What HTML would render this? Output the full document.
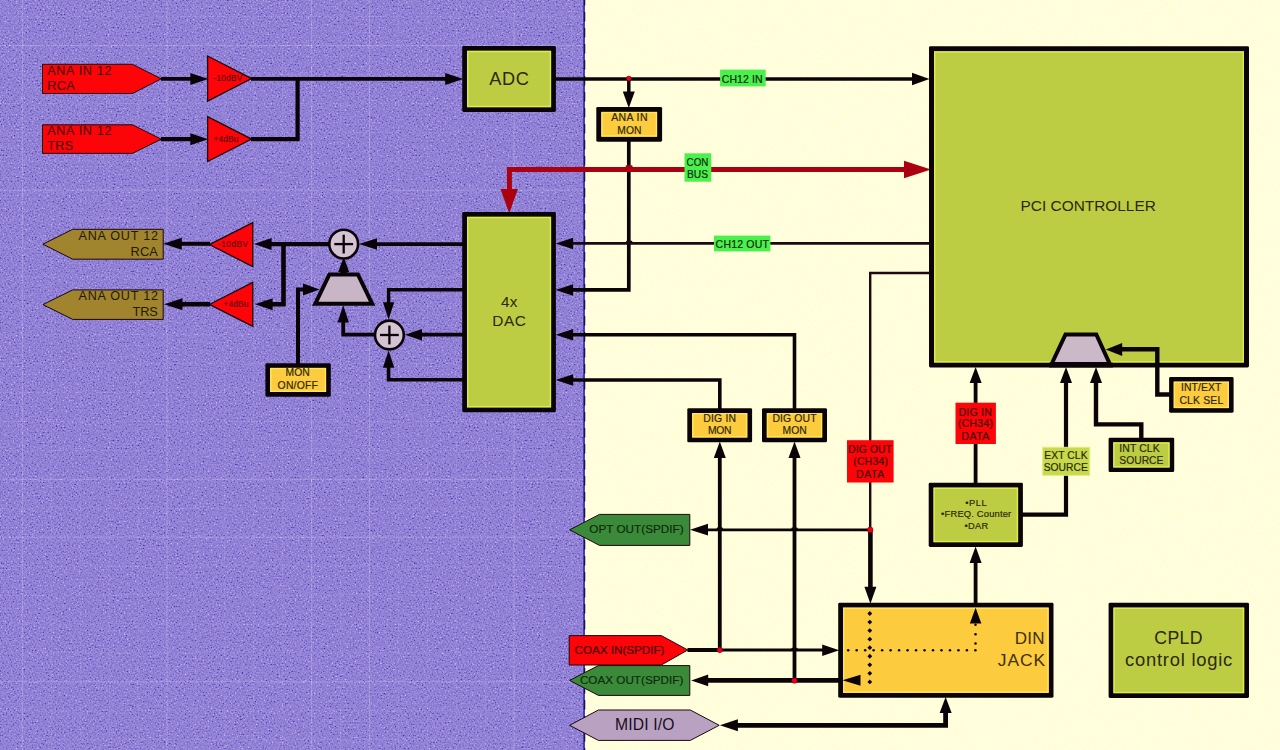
<!DOCTYPE html>
<html><head><meta charset="utf-8"><title>Block diagram</title>
<style>
html,body{margin:0;padding:0;background:#ffffd9;overflow:hidden}
svg{display:block}
text{font-family:"Liberation Sans",sans-serif}
</style></head><body>
<svg width="1280" height="750" viewBox="0 0 1280 750">
<defs><filter id="nz" x="0" y="0" width="100%" height="100%" color-interpolation-filters="sRGB"><feTurbulence type="fractalNoise" baseFrequency="0.62" numOctaves="2" seed="7" result="t"/><feColorMatrix in="t" type="matrix" values="1 0 0 0 0  1 0 0 0 0  1 0 0 0 0  0 0 0 0 1"/><feComponentTransfer result="g"><feFuncR type="table" tableValues="0.05 0.12 0.41 0.5 0.58 0.80 0.9"/><feFuncG type="table" tableValues="0.05 0.14 0.42 0.5 0.56 0.74 0.85"/><feFuncB type="table" tableValues="0.3 0.35 0.47 0.5 0.52 0.6 0.65"/></feComponentTransfer><feGaussianBlur in="g" stdDeviation="0.6" result="gb"/><feComposite in="SourceGraphic" in2="gb" operator="arithmetic" k1="0" k2="1" k3="0.78" k4="-0.39"/></filter><filter id="ny" x="0" y="0" width="100%" height="100%" color-interpolation-filters="sRGB"><feTurbulence type="fractalNoise" baseFrequency="0.7" numOctaves="2" seed="11" result="t"/><feColorMatrix in="t" type="matrix" values="0 0 0 0 0.5  0 0 0 0 0.5  0 0 1 0 0  0 0 0 0 1" result="g"/><feComposite in="SourceGraphic" in2="g" operator="arithmetic" k1="0" k2="1" k3="0.3" k4="-0.15"/></filter></defs>
<rect x="0" y="0" width="585" height="750" fill="#9182d6" filter="url(#nz)"/>
<rect x="584.6" y="0" width="696" height="750" fill="#fffedb" filter="url(#ny)"/>
<line x1="22.4" y1="0" x2="22.4" y2="750" stroke="#fff" stroke-opacity="0.2" stroke-width="1"/><line x1="51.32" y1="0" x2="51.32" y2="750" stroke="#fff" stroke-opacity="0.08" stroke-width="1"/><line x1="80.24" y1="0" x2="80.24" y2="750" stroke="#fff" stroke-opacity="0.08" stroke-width="1"/><line x1="109.16" y1="0" x2="109.16" y2="750" stroke="#fff" stroke-opacity="0.08" stroke-width="1"/><line x1="138.08" y1="0" x2="138.08" y2="750" stroke="#fff" stroke-opacity="0.08" stroke-width="1"/><line x1="167" y1="0" x2="167" y2="750" stroke="#fff" stroke-opacity="0.2" stroke-width="1"/><line x1="195.92" y1="0" x2="195.92" y2="750" stroke="#fff" stroke-opacity="0.08" stroke-width="1"/><line x1="224.84" y1="0" x2="224.84" y2="750" stroke="#fff" stroke-opacity="0.08" stroke-width="1"/><line x1="253.76" y1="0" x2="253.76" y2="750" stroke="#fff" stroke-opacity="0.08" stroke-width="1"/><line x1="282.68" y1="0" x2="282.68" y2="750" stroke="#fff" stroke-opacity="0.08" stroke-width="1"/><line x1="311.6" y1="0" x2="311.6" y2="750" stroke="#fff" stroke-opacity="0.2" stroke-width="1"/><line x1="340.52" y1="0" x2="340.52" y2="750" stroke="#fff" stroke-opacity="0.08" stroke-width="1"/><line x1="369.44" y1="0" x2="369.44" y2="750" stroke="#fff" stroke-opacity="0.2" stroke-width="1"/><line x1="398.36" y1="0" x2="398.36" y2="750" stroke="#fff" stroke-opacity="0.08" stroke-width="1"/><line x1="427.28" y1="0" x2="427.28" y2="750" stroke="#fff" stroke-opacity="0.08" stroke-width="1"/><line x1="456.2" y1="0" x2="456.2" y2="750" stroke="#fff" stroke-opacity="0.08" stroke-width="1"/><line x1="485.12" y1="0" x2="485.12" y2="750" stroke="#fff" stroke-opacity="0.08" stroke-width="1"/><line x1="514.04" y1="0" x2="514.04" y2="750" stroke="#fff" stroke-opacity="0.2" stroke-width="1"/><line x1="542.96" y1="0" x2="542.96" y2="750" stroke="#fff" stroke-opacity="0.08" stroke-width="1"/><line x1="571.88" y1="0" x2="571.88" y2="750" stroke="#fff" stroke-opacity="0.08" stroke-width="1"/><line x1="0" y1="16.6" x2="584" y2="16.6" stroke="#fff" stroke-opacity="0.08" stroke-width="1"/><line x1="0" y1="45.52" x2="584" y2="45.52" stroke="#fff" stroke-opacity="0.2" stroke-width="1"/><line x1="0" y1="74.44" x2="584" y2="74.44" stroke="#fff" stroke-opacity="0.08" stroke-width="1"/><line x1="0" y1="103.36" x2="584" y2="103.36" stroke="#fff" stroke-opacity="0.08" stroke-width="1"/><line x1="0" y1="132.28" x2="584" y2="132.28" stroke="#fff" stroke-opacity="0.08" stroke-width="1"/><line x1="0" y1="161.2" x2="584" y2="161.2" stroke="#fff" stroke-opacity="0.08" stroke-width="1"/><line x1="0" y1="190.12" x2="584" y2="190.12" stroke="#fff" stroke-opacity="0.2" stroke-width="1"/><line x1="0" y1="219.04" x2="584" y2="219.04" stroke="#fff" stroke-opacity="0.08" stroke-width="1"/><line x1="0" y1="247.96" x2="584" y2="247.96" stroke="#fff" stroke-opacity="0.08" stroke-width="1"/><line x1="0" y1="276.88" x2="584" y2="276.88" stroke="#fff" stroke-opacity="0.08" stroke-width="1"/><line x1="0" y1="305.8" x2="584" y2="305.8" stroke="#fff" stroke-opacity="0.08" stroke-width="1"/><line x1="0" y1="334.72" x2="584" y2="334.72" stroke="#fff" stroke-opacity="0.08" stroke-width="1"/><line x1="0" y1="363.64" x2="584" y2="363.64" stroke="#fff" stroke-opacity="0.08" stroke-width="1"/><line x1="0" y1="392.56" x2="584" y2="392.56" stroke="#fff" stroke-opacity="0.08" stroke-width="1"/><line x1="0" y1="421.48" x2="584" y2="421.48" stroke="#fff" stroke-opacity="0.08" stroke-width="1"/><line x1="0" y1="450.4" x2="584" y2="450.4" stroke="#fff" stroke-opacity="0.08" stroke-width="1"/><line x1="0" y1="479.32" x2="584" y2="479.32" stroke="#fff" stroke-opacity="0.2" stroke-width="1"/><line x1="0" y1="508.24" x2="584" y2="508.24" stroke="#fff" stroke-opacity="0.08" stroke-width="1"/><line x1="0" y1="537.16" x2="584" y2="537.16" stroke="#fff" stroke-opacity="0.2" stroke-width="1"/><line x1="0" y1="566.08" x2="584" y2="566.08" stroke="#fff" stroke-opacity="0.08" stroke-width="1"/><line x1="0" y1="595" x2="584" y2="595" stroke="#fff" stroke-opacity="0.08" stroke-width="1"/><line x1="0" y1="623.92" x2="584" y2="623.92" stroke="#fff" stroke-opacity="0.08" stroke-width="1"/><line x1="0" y1="652.84" x2="584" y2="652.84" stroke="#fff" stroke-opacity="0.08" stroke-width="1"/><line x1="0" y1="681.76" x2="584" y2="681.76" stroke="#fff" stroke-opacity="0.2" stroke-width="1"/><line x1="0" y1="710.68" x2="584" y2="710.68" stroke="#fff" stroke-opacity="0.08" stroke-width="1"/><line x1="0" y1="739.6" x2="584" y2="739.6" stroke="#fff" stroke-opacity="0.08" stroke-width="1"/>
<line x1="584" y1="0" x2="584" y2="750" stroke="#3c36b6" stroke-width="1.8"/>
<line x1="584.7" y1="0" x2="584.7" y2="750" stroke="#1a0a30" stroke-width="1.1" stroke-dasharray="9.5 6.5" stroke-dashoffset="4"/>
<polygon points="42.5,64.3 132.5,64.3 161.3,78.8 132.5,93.5 42.5,93.5" fill="#fc0408" stroke="#1c0610" stroke-width="1" stroke-linejoin="miter"/>
<polygon points="42.5,124.8 132.5,124.8 161.3,139.2 132.5,153.4 42.5,153.4" fill="#fc0408" stroke="#1c0610" stroke-width="1" stroke-linejoin="miter"/>
<text x="47.2" y="74.7" font-size="12.6" fill="#3c0004" textLength="64.3" lengthAdjust="spacing">ANA IN 12</text>
<text x="47.2" y="89.7" font-size="12.8" fill="#3c0004" textLength="27.7" lengthAdjust="spacing">RCA</text>
<text x="47.2" y="135.3" font-size="12.6" fill="#3c0004" textLength="64.3" lengthAdjust="spacing">ANA IN 12</text>
<text x="47.2" y="150.4" font-size="12.8" fill="#3c0004" textLength="26" lengthAdjust="spacing">TRS</text>
<polygon points="207.6,56 251.6,78.6 207.6,101.2" fill="#fc0408" stroke="#1c0610" stroke-width="1.3" stroke-linejoin="miter"/>
<polygon points="207.6,116.6 251.6,139.1 207.6,161.5" fill="#fc0408" stroke="#1c0610" stroke-width="1.3" stroke-linejoin="miter"/>
<text x="213.4" y="81" font-size="8.4" fill="#3c0004" textLength="29" lengthAdjust="spacing">-10dBV</text>
<text x="213.4" y="141.5" font-size="8.4" fill="#3c0004" textLength="25.1" lengthAdjust="spacing">+4dBu</text>
<path d="M161,78.9 L196,78.9" fill="none" stroke="#0a0408" stroke-width="3.8" stroke-linejoin="miter" />
<polygon points="208.3,78.9 190.3,72.9 190.3,84.9" fill="#0a0408"/>
<path d="M161,139.2 L196,139.2" fill="none" stroke="#0a0408" stroke-width="4.2" stroke-linejoin="miter" />
<polygon points="208.3,139.2 190.3,133.2 190.3,145.2" fill="#0a0408"/>
<path d="M251,78.9 L450,78.9" fill="none" stroke="#0a0408" stroke-width="3.8" stroke-linejoin="miter" />
<polygon points="463.2,79 445.2,73 445.2,85" fill="#0a0408"/>
<path d="M251,139.2 L297.6,139.2 L297.6,78.9" fill="none" stroke="#0a0408" stroke-width="4.2" stroke-linejoin="miter" />
<rect x="462.2" y="46" width="93.7" height="66" rx="1.4" fill="#0a0408"/>
<rect x="467" y="50.8" width="84.1" height="56.4" fill="#bccd44"/>
<rect x="467.7" y="51.5" width="82.7" height="55" fill="none" stroke="#dcec4a" stroke-width="1.4"/>
<text x="489.3" y="84.7" font-size="18.2" fill="#2c280a" textLength="39.5" lengthAdjust="spacing">ADC</text>
<path d="M555,79 L915,79" fill="none" stroke="#0a0408" stroke-width="3.5" stroke-linejoin="miter" />
<polygon points="929.5,78.9 912,72.65 912,85.15" fill="#0a0408"/>
<path d="M628.8,79 L628.8,93" fill="none" stroke="#0a0408" stroke-width="3.5" stroke-linejoin="miter" />
<polygon points="628.8,108 622.8,91.5 634.8,91.5" fill="#0a0408"/>
<circle cx="628.8" cy="78.5" r="2.4" fill="#f00018" stroke="#7a0010" stroke-width="0.6"/>
<rect x="596.3" y="106.9" width="65.8" height="34.8" rx="1.4" fill="#0a0408"/>
<rect x="601.3" y="111.9" width="55.8" height="24.8" fill="#fccb3e"/>
<rect x="602" y="112.6" width="54.4" height="23.4" fill="none" stroke="#ffe658" stroke-width="1.4"/>
<text x="611.2" y="121.1" font-size="10.5" fill="#2c280a" textLength="36.3" lengthAdjust="spacing" stroke="#2c280a" stroke-width="0.18">ANA IN</text>
<text x="617.2" y="133.9" font-size="10.3" fill="#2c280a" textLength="24.3" lengthAdjust="spacing" stroke="#2c280a" stroke-width="0.18">MON</text>
<path d="M628.8,141 L628.8,289.9 L570,289.9" fill="none" stroke="#0a0408" stroke-width="3.7" stroke-linejoin="miter" />
<polygon points="555.6,289.9 573.1,284.15 573.1,295.65" fill="#0a0408"/>
<path d="M908,169.5 L509.4,169.5 L509.4,192" fill="none" stroke="#aa0010" stroke-width="5" stroke-linejoin="miter" />
<polygon points="509.2,213 500.45,189 517.95,189" fill="#aa0010"/>
<polygon points="931,169.4 904,160.65 904,178.15" fill="#aa0010"/>
<rect x="684.5" y="153.3" width="26.8" height="28.4" fill="#4cf04c"/>
<text x="686.6" y="166.2" font-size="10.6" fill="#0d2a0d" textLength="21.7" lengthAdjust="spacingAndGlyphs" stroke="#0d2a0d" stroke-width="0.18">CON</text>
<text x="686.9" y="177.6" font-size="10.6" fill="#0d2a0d" textLength="21.1" lengthAdjust="spacingAndGlyphs" stroke="#0d2a0d" stroke-width="0.18">BUS</text>
<rect x="720.1" y="69.6" width="45.6" height="16.8" fill="#4cf04c"/>
<text x="721.7" y="82.6" font-size="10.5" fill="#0d2a0d" textLength="41" lengthAdjust="spacing" stroke="#0d2a0d" stroke-width="0.18">CH12 IN</text>
<rect x="625.6" y="165.2" width="7" height="2.2" rx="1" fill="#aa0010"/>
<rect x="626" y="240.8" width="6.4" height="2" rx="1" fill="#1a0812"/>
<path d="M930,243.4 L570,243.4" fill="none" stroke="#1c0814" stroke-width="2.6" stroke-linejoin="miter" />
<polygon points="555.6,243.6 573.1,237.85 573.1,249.35" fill="#0a0408"/>
<rect x="714" y="235.6" width="56.4" height="15.8" fill="#4cf04c"/>
<text x="715.6" y="247.6" font-size="10.5" fill="#0d2a0d" textLength="53.3" lengthAdjust="spacing" stroke="#0d2a0d" stroke-width="0.18">CH12 OUT</text>
<rect x="462.2" y="212" width="93.7" height="200.2" rx="1.4" fill="#0a0408"/>
<rect x="467" y="216.8" width="84.1" height="190.6" fill="#bccd44"/>
<rect x="467.7" y="217.5" width="82.7" height="189.2" fill="none" stroke="#dcec4a" stroke-width="1.4"/>
<text x="501.1" y="306.7" font-size="15.3" fill="#2c280a" textLength="16.4" lengthAdjust="spacing">4x</text>
<text x="492.3" y="325.5" font-size="15.4" fill="#2c280a" textLength="33.5" lengthAdjust="spacing">DAC</text>
<path d="M794.5,409 L794.5,334.8 L570,334.8" fill="none" stroke="#0a0408" stroke-width="3.6" stroke-linejoin="miter" />
<polygon points="555.6,334.8 573.1,329.05 573.1,340.55" fill="#0a0408"/>
<path d="M719.8,409 L719.8,380 L570,380" fill="none" stroke="#0a0408" stroke-width="3.6" stroke-linejoin="miter" />
<polygon points="555.6,380 573.1,374.25 573.1,385.75" fill="#0a0408"/>
<rect x="929" y="46.3" width="320" height="321.2" rx="1.4" fill="#0a0408"/>
<rect x="934" y="51.3" width="310" height="311.2" fill="#bccd44"/>
<rect x="934.7" y="52" width="308.6" height="309.8" fill="none" stroke="#dcec4a" stroke-width="1.4"/>
<text x="1020.6" y="211.4" font-size="15.4" fill="#2c280a" textLength="135.2" lengthAdjust="spacing">PCI CONTROLLER</text>
<polygon points="1051.6,364 1065.5,334.4 1096.3,334.4 1109.8,364" fill="#cbb9c9" stroke="#0a0408" stroke-width="4" stroke-linejoin="miter"/>
<path d="M1049,365.1 L1113,365.1" fill="none" stroke="#0a0408" stroke-width="4.8" stroke-linejoin="miter" />
<rect x="1169.1" y="377" width="64.5" height="35.7" rx="1.4" fill="#0a0408"/>
<rect x="1173.7" y="381.6" width="55.3" height="26.5" fill="#fccb3e"/>
<rect x="1174.4" y="382.3" width="53.9" height="25.1" fill="none" stroke="#ffe658" stroke-width="1.4"/>
<text x="1180.9" y="390.8" font-size="10.4" fill="#2c280a" textLength="40.4" lengthAdjust="spacing" stroke="#2c280a" stroke-width="0.18">INT/EXT</text>
<text x="1179.4" y="403.5" font-size="10.4" fill="#2c280a" textLength="43.8" lengthAdjust="spacing" stroke="#2c280a" stroke-width="0.18">CLK SEL</text>
<path d="M1170,394.5 L1157.3,394.5 L1157.3,349.2 L1120,349.2" fill="none" stroke="#0a0408" stroke-width="4.4" stroke-linejoin="miter" />
<polygon points="1105.7,349.4 1122.2,342.9 1122.2,355.9" fill="#0a0408"/>
<rect x="1108.6" y="437.7" width="65.6" height="34.4" rx="1.4" fill="#0a0408"/>
<rect x="1113.2" y="442.3" width="56.4" height="25.2" fill="#bccd44"/>
<rect x="1113.9" y="443" width="55" height="23.8" fill="none" stroke="#dcec4a" stroke-width="1.4"/>
<text x="1119.3" y="451.8" font-size="10.4" fill="#2c280a" textLength="40.3" lengthAdjust="spacing" stroke="#2c280a" stroke-width="0.18">INT CLK</text>
<text x="1119.3" y="464.4" font-size="10.3" fill="#2c280a" textLength="44.1" lengthAdjust="spacing" stroke="#2c280a" stroke-width="0.18">SOURCE</text>
<path d="M1141.3,439 L1141.3,424.4 L1096,424.4 L1096,381" fill="none" stroke="#0a0408" stroke-width="4.4" stroke-linejoin="miter" />
<polygon points="1096,367 1090,383 1102,383" fill="#0a0408"/>
<path d="M1022,514.7 L1066,514.7 L1066,381" fill="none" stroke="#0a0408" stroke-width="4.2" stroke-linejoin="miter" />
<polygon points="1066,367 1060,383 1072,383" fill="#0a0408"/>
<rect x="1042.7" y="447.3" width="47" height="28" fill="#c6da4c" stroke="#dcee78" stroke-width="1"/>
<text x="1044.3" y="459.4" font-size="10.3" fill="#2c280a" textLength="43.2" lengthAdjust="spacing" stroke="#2c280a" stroke-width="0.18">EXT CLK</text>
<text x="1043.7" y="470.6" font-size="10.3" fill="#2c280a" textLength="44.1" lengthAdjust="spacing" stroke="#2c280a" stroke-width="0.18">SOURCE</text>
<path d="M975.6,484 L975.6,381" fill="none" stroke="#0a0408" stroke-width="3.8" stroke-linejoin="miter" />
<polygon points="975.6,367 969.6,383 981.6,383" fill="#0a0408"/>
<rect x="955.5" y="402.7" width="40.4" height="41.3" fill="#fc0408"/>
<text x="958.8" y="415.5" font-size="10.4" fill="#3c0004" textLength="32.9" lengthAdjust="spacing" stroke="#3c0004" stroke-width="0.18">DIG IN</text>
<text x="957.9" y="427.1" font-size="10.4" fill="#3c0004" textLength="35.1" lengthAdjust="spacing" stroke="#3c0004" stroke-width="0.18">(CH34)</text>
<text x="961.6" y="440" font-size="10.5" fill="#3c0004" textLength="27.6" lengthAdjust="spacing" stroke="#3c0004" stroke-width="0.18">DATA</text>
<rect x="928.7" y="482.8" width="94.2" height="64.2" rx="1.4" fill="#0a0408"/>
<rect x="933.5" y="487.6" width="84.6" height="54.6" fill="#bccd44"/>
<rect x="934.2" y="488.3" width="83.2" height="53.2" fill="none" stroke="#dcec4a" stroke-width="1.4"/>
<text x="965.2" y="505.7" font-size="9.4" fill="#2c280a" textLength="21.5" lengthAdjust="spacing" stroke="#2c280a" stroke-width="0.18">•PLL</text>
<text x="941.1" y="517.4" font-size="9.4" fill="#2c280a" textLength="70.1" lengthAdjust="spacing" stroke="#2c280a" stroke-width="0.18">•FREQ. Counter</text>
<text x="964.6" y="528.8" font-size="9.3" fill="#2c280a" textLength="23.5" lengthAdjust="spacing" stroke="#2c280a" stroke-width="0.18">•DAR</text>
<path d="M975.6,604 L975.6,561" fill="none" stroke="#0a0408" stroke-width="3.8" stroke-linejoin="miter" />
<polygon points="975.6,546.4 969.6,562.9 981.6,562.9" fill="#0a0408"/>
<path d="M930,273 L870.2,273 L870.2,530" fill="none" stroke="#1c0814" stroke-width="2.4" stroke-linejoin="miter" />
<path d="M870.4,530 L870.4,590" fill="none" stroke="#0a0408" stroke-width="4.6" stroke-linejoin="miter" />
<polygon points="870.4,603.8 864.4,586.8 876.4,586.8" fill="#0a0408"/>
<rect x="847" y="440.2" width="46.6" height="42.3" fill="#fc0408"/>
<text x="848.1" y="452.8" font-size="10.4" fill="#3c0004" textLength="44" lengthAdjust="spacing" stroke="#3c0004" stroke-width="0.18">DIG OUT</text>
<text x="853.2" y="465.2" font-size="10.4" fill="#3c0004" textLength="34.7" lengthAdjust="spacing" stroke="#3c0004" stroke-width="0.18">(CH34)</text>
<text x="856" y="477.8" font-size="10.5" fill="#3c0004" textLength="28.2" lengthAdjust="spacing" stroke="#3c0004" stroke-width="0.18">DATA</text>
<path d="M870,529.9 L704,529.9" fill="none" stroke="#0a0408" stroke-width="2.8" stroke-linejoin="miter" />
<polygon points="690,529.7 708,523.85 708,535.55" fill="#0a0408"/>
<circle cx="870.2" cy="529.8" r="2.8" fill="#f00018" stroke="#7a0010" stroke-width="0.6"/>
<rect x="687.3" y="408.2" width="64.8" height="34.1" rx="1.4" fill="#0a0408"/>
<rect x="692.1" y="413" width="55.2" height="24.5" fill="#fccb3e"/>
<rect x="692.8" y="413.7" width="53.8" height="23.1" fill="none" stroke="#ffe658" stroke-width="1.4"/>
<text x="703.2" y="422" font-size="10.4" fill="#2c280a" textLength="32.9" lengthAdjust="spacing" stroke="#2c280a" stroke-width="0.18">DIG IN</text>
<text x="708.1" y="433.6" font-size="10.3" fill="#2c280a" textLength="23.4" lengthAdjust="spacing" stroke="#2c280a" stroke-width="0.18">MON</text>
<rect x="762" y="408.2" width="65" height="34.1" rx="1.4" fill="#0a0408"/>
<rect x="766.8" y="413" width="55.4" height="24.5" fill="#fccb3e"/>
<rect x="767.5" y="413.7" width="54" height="23.1" fill="none" stroke="#ffe658" stroke-width="1.4"/>
<text x="772.4" y="422" font-size="10.4" fill="#2c280a" textLength="44.1" lengthAdjust="spacing" stroke="#2c280a" stroke-width="0.18">DIG OUT</text>
<text x="782.6" y="433.6" font-size="10.3" fill="#2c280a" textLength="24.1" lengthAdjust="spacing" stroke="#2c280a" stroke-width="0.18">MON</text>
<path d="M719.8,650 L719.8,456" fill="none" stroke="#0a0408" stroke-width="3.8" stroke-linejoin="miter" />
<polygon points="719.8,441.6 713.8,458.1 725.8,458.1" fill="#0a0408"/>
<path d="M794.5,681 L794.5,456" fill="none" stroke="#0a0408" stroke-width="3.8" stroke-linejoin="miter" />
<polygon points="794.5,441.6 788.5,458.1 800.5,458.1" fill="#0a0408"/>
<polygon points="569.6,529.8 599.5,514.4 689.8,514.4 689.8,545.4 599.5,545.4" fill="#3b8a39" stroke="#1c0610" stroke-width="1" stroke-linejoin="miter"/>
<text x="589.3" y="533.3" font-size="11.7" fill="#0d2a0d" textLength="94.3" lengthAdjust="spacing" stroke="#0d2a0d" stroke-width="0.18">OPT OUT(SPDIF)</text>
<polygon points="569.2,635.6 661.3,635.6 687.8,650 661.3,665 569.2,665" fill="#fc0408" stroke="#1c0610" stroke-width="1" stroke-linejoin="miter"/>
<text x="574.6" y="653.5" font-size="11.7" fill="#3c0004" textLength="89.9" lengthAdjust="spacing" stroke="#3c0004" stroke-width="0.18">COAX IN(SPDIF)</text>
<path d="M687.5,650 L720,650" fill="none" stroke="#0a0408" stroke-width="4" stroke-linejoin="miter" />
<path d="M719,650.1 L824,650.1" fill="none" stroke="#0a0408" stroke-width="3" stroke-linejoin="miter" />
<polygon points="839.2,650.2 822.2,644.45 822.2,655.95" fill="#0a0408"/>
<circle cx="719.8" cy="650" r="2.7" fill="#f00018" stroke="#7a0010" stroke-width="0.6"/>
<polygon points="569.6,680.4 598.4,665.6 689.8,665.6 689.8,695.4 598.4,695.4" fill="#3b8a39" stroke="#1c0610" stroke-width="1" stroke-linejoin="miter"/>
<text x="579.9" y="683.9" font-size="11.7" fill="#0d2a0d" textLength="103.4" lengthAdjust="spacing" stroke="#0d2a0d" stroke-width="0.18">COAX OUT(SPDIF)</text>
<path d="M841,680.4 L706,680.4" fill="none" stroke="#0a0408" stroke-width="4.6" stroke-linejoin="miter" />
<polygon points="691.2,680.4 708.2,674.6 708.2,686.2" fill="#0a0408"/>
<circle cx="794.4" cy="680.6" r="2.7" fill="#f00018" stroke="#7a0010" stroke-width="0.6"/>
<polygon points="569.6,725.3 598.4,710 690.3,710 719.2,725.3 690.3,740.4 598.4,740.4" fill="#b9a2c1" stroke="#1c0610" stroke-width="1" stroke-linejoin="miter"/>
<text x="614.9" y="730.2" font-size="15.7" fill="#1a0c1e" textLength="59.6" lengthAdjust="spacing">MIDI I/O</text>
<path d="M735,725.3 L945.6,725.3 L945.6,711" fill="none" stroke="#0a0408" stroke-width="4.8" stroke-linejoin="miter" />
<polygon points="719.9,725.3 737.9,719.3 737.9,731.3" fill="#0a0408"/>
<polygon points="945.6,697 939.6,713 951.6,713" fill="#0a0408"/>
<rect x="716.6" y="527.6" width="6.4" height="2" rx="1" fill="#0a0408"/>
<rect x="791.3" y="527.6" width="6.4" height="2" rx="1" fill="#0a0408"/>
<rect x="791.3" y="647.8" width="6.4" height="2" rx="1" fill="#0a0408"/>
<rect x="838.2" y="602.8" width="215.3" height="94.9" rx="1.4" fill="#0a0408"/>
<rect x="843" y="607.6" width="205.7" height="85.3" fill="#fccb3e"/>
<rect x="843.7" y="608.3" width="204.3" height="83.9" fill="none" stroke="#ffe658" stroke-width="1.4"/>
<text x="1014.7" y="644.1" font-size="17" fill="#3e3008" textLength="29.8" lengthAdjust="spacing">DIN</text>
<text x="997.8" y="665.8" font-size="17.4" fill="#3e3008" textLength="47.3" lengthAdjust="spacing">JACK</text>
<rect x="868.1" y="611.8" width="3.4" height="3.4" transform="rotate(45 869.8 613.5)" fill="#0a0408"/>
<rect x="868.1" y="620.35" width="3.4" height="3.4" transform="rotate(45 869.8 622.05)" fill="#0a0408"/>
<rect x="868.1" y="628.9" width="3.4" height="3.4" transform="rotate(45 869.8 630.6)" fill="#0a0408"/>
<rect x="868.1" y="637.45" width="3.4" height="3.4" transform="rotate(45 869.8 639.15)" fill="#0a0408"/>
<rect x="868.1" y="646" width="3.4" height="3.4" transform="rotate(45 869.8 647.7)" fill="#0a0408"/>
<rect x="868.1" y="654.55" width="3.4" height="3.4" transform="rotate(45 869.8 656.25)" fill="#0a0408"/>
<rect x="868.1" y="663.1" width="3.4" height="3.4" transform="rotate(45 869.8 664.8)" fill="#0a0408"/>
<rect x="868.1" y="671.65" width="3.4" height="3.4" transform="rotate(45 869.8 673.35)" fill="#0a0408"/>
<rect x="868.1" y="680.2" width="3.4" height="3.4" transform="rotate(45 869.8 681.9)" fill="#0a0408"/>
<circle cx="848.2" cy="650.2" r="1.25" fill="#0a0408"/>
<circle cx="856.68" cy="650.2" r="1.25" fill="#0a0408"/>
<circle cx="865.16" cy="650.2" r="1.25" fill="#0a0408"/>
<circle cx="873.64" cy="650.2" r="1.25" fill="#0a0408"/>
<circle cx="882.12" cy="650.2" r="1.25" fill="#0a0408"/>
<circle cx="890.6" cy="650.2" r="1.25" fill="#0a0408"/>
<circle cx="899.08" cy="650.2" r="1.25" fill="#0a0408"/>
<circle cx="907.56" cy="650.2" r="1.25" fill="#0a0408"/>
<circle cx="916.04" cy="650.2" r="1.25" fill="#0a0408"/>
<circle cx="924.52" cy="650.2" r="1.25" fill="#0a0408"/>
<circle cx="933" cy="650.2" r="1.25" fill="#0a0408"/>
<circle cx="941.48" cy="650.2" r="1.25" fill="#0a0408"/>
<circle cx="949.96" cy="650.2" r="1.25" fill="#0a0408"/>
<circle cx="958.44" cy="650.2" r="1.25" fill="#0a0408"/>
<circle cx="966.92" cy="650.2" r="1.25" fill="#0a0408"/>
<circle cx="975.4" cy="650.2" r="1.25" fill="#0a0408"/>
<circle cx="975.5" cy="624.8" r="1.25" fill="#0a0408"/>
<circle cx="975.5" cy="634.2" r="1.25" fill="#0a0408"/>
<circle cx="975.5" cy="643.6" r="1.25" fill="#0a0408"/>
<polygon points="975.6,607.8 969.85,623.5 981.35,623.5" fill="#0a0408"/>
<polygon points="842.5,680.2 860.5,674.7 860.5,685.7" fill="#0a0408"/>
<rect x="1108.6" y="602.8" width="140.4" height="95.2" rx="1.4" fill="#0a0408"/>
<rect x="1113.4" y="607.6" width="130.8" height="85.6" fill="#bccd44"/>
<rect x="1114.1" y="608.3" width="129.4" height="84.2" fill="none" stroke="#dcec4a" stroke-width="1.4"/>
<text x="1154.3" y="644.1" font-size="17.7" fill="#2c280a" textLength="48.2" lengthAdjust="spacing">CPLD</text>
<text x="1125.1" y="665.8" font-size="18.4" fill="#2c280a" textLength="107.1" lengthAdjust="spacing">control logic</text>
<polygon points="42.9,244.2 72.7,229.3 163.2,229.3 163.2,259.2 72.7,259.2" fill="#a0852e" stroke="#1c0610" stroke-width="1" stroke-linejoin="miter"/>
<polygon points="42.9,304.6 72.7,289.9 163.2,289.9 163.2,319.4 72.7,319.4" fill="#a0852e" stroke="#1c0610" stroke-width="1" stroke-linejoin="miter"/>
<text x="78.6" y="239.9" font-size="12.6" fill="#241a04" textLength="79.3" lengthAdjust="spacing">ANA OUT 12</text>
<text x="130.4" y="256.2" font-size="12.8" fill="#241a04" textLength="27.5" lengthAdjust="spacing">RCA</text>
<text x="78.6" y="300.3" font-size="12.6" fill="#241a04" textLength="79.3" lengthAdjust="spacing">ANA OUT 12</text>
<text x="132.4" y="315.8" font-size="12.8" fill="#241a04" textLength="25.5" lengthAdjust="spacing">TRS</text>
<polygon points="252.8,222.6 209.4,244.6 252.8,266.7" fill="#fc0408" stroke="#1c0610" stroke-width="1.3" stroke-linejoin="miter"/>
<polygon points="252.8,282.3 209.4,304.4 252.8,326.4" fill="#fc0408" stroke="#1c0610" stroke-width="1.3" stroke-linejoin="miter"/>
<text x="218.1" y="246.6" font-size="8.4" fill="#3c0004" textLength="30" lengthAdjust="spacing">-10dBV</text>
<text x="223.4" y="306.5" font-size="8.4" fill="#3c0004" textLength="25.1" lengthAdjust="spacing">+4dBu</text>
<path d="M210,243.8 L178,243.8" fill="none" stroke="#0a0408" stroke-width="4" stroke-linejoin="miter" />
<polygon points="163.3,243.8 181.8,237.8 181.8,249.8" fill="#0a0408"/>
<path d="M210,304.2 L178,304.2" fill="none" stroke="#0a0408" stroke-width="4.6" stroke-linejoin="miter" />
<polygon points="164,304.2 182.5,298.2 182.5,310.2" fill="#0a0408"/>
<path d="M330,244.1 L268,244.1" fill="none" stroke="#0a0408" stroke-width="4.2" stroke-linejoin="miter" />
<polygon points="254,244.1 271.6,238.1 271.6,250.1" fill="#0a0408"/>
<path d="M283.5,244.1 L283.5,304.3 L268,304.3" fill="none" stroke="#0a0408" stroke-width="4.6" stroke-linejoin="miter" />
<polygon points="255,304.3 272.6,298.3 272.6,310.3" fill="#0a0408"/>
<path d="M463,244.1 L373,244.1" fill="none" stroke="#0a0408" stroke-width="3.8" stroke-linejoin="miter" />
<polygon points="359,244.1 377,238.35 377,249.85" fill="#0a0408"/>
<polygon points="315.2,303.8 329.4,274.4 357.9,274.4 372.2,303.8" fill="#c8b6c6" stroke="#0a0408" stroke-width="4" stroke-linejoin="miter"/>
<path d="M343.7,276 L343.7,268" fill="none" stroke="#0a0408" stroke-width="7" stroke-linejoin="miter" />
<polygon points="343.7,257 338.2,272 349.2,272" fill="#0a0408"/>
<circle cx="343.7" cy="244.1" r="14.4" fill="#d4c4d2" stroke="#0a0408" stroke-width="2.6"/>
<path d="M343.7,234.7 L343.7,253.5" fill="none" stroke="#0a0408" stroke-width="2.3" stroke-linejoin="miter" />
<path d="M334.3,244.1 L353.1,244.1" fill="none" stroke="#0a0408" stroke-width="2.3" stroke-linejoin="miter" />
<circle cx="389.4" cy="335" r="14.4" fill="#d4c4d2" stroke="#0a0408" stroke-width="2.6"/>
<path d="M389.4,325.6 L389.4,344.4" fill="none" stroke="#0a0408" stroke-width="2.3" stroke-linejoin="miter" />
<path d="M380,335 L398.8,335" fill="none" stroke="#0a0408" stroke-width="2.3" stroke-linejoin="miter" />
<rect x="265.4" y="363.2" width="65.4" height="33.5" rx="1.4" fill="#0a0408"/>
<rect x="270.1" y="367.9" width="56" height="24.1" fill="#fccb3e"/>
<rect x="270.8" y="368.6" width="54.6" height="22.7" fill="none" stroke="#ffe658" stroke-width="1.4"/>
<text x="285.6" y="376.4" font-size="10.3" fill="#2c280a" textLength="24.1" lengthAdjust="spacing" stroke="#2c280a" stroke-width="0.18">MON</text>
<text x="277.6" y="389.2" font-size="10.4" fill="#2c280a" textLength="40.3" lengthAdjust="spacing" stroke="#2c280a" stroke-width="0.18">ON/OFF</text>
<path d="M298,364 L298,289.6 L306,289.6" fill="none" stroke="#0a0408" stroke-width="4" stroke-linejoin="miter" />
<polygon points="319.6,289.6 303,283.6 303,295.6" fill="#0a0408"/>
<path d="M463,334.7 L418,334.7" fill="none" stroke="#0a0408" stroke-width="3.8" stroke-linejoin="miter" />
<polygon points="404.8,334.7 422,328.95 422,340.45" fill="#0a0408"/>
<path d="M463,289.8 L388.6,289.8 L388.6,305" fill="none" stroke="#0a0408" stroke-width="3.4" stroke-linejoin="miter" />
<polygon points="388.6,319.4 382.95,302.2 394.25,302.2" fill="#0a0408"/>
<path d="M463,379.8 L388.6,379.8 L388.6,365" fill="none" stroke="#0a0408" stroke-width="3.6" stroke-linejoin="miter" />
<polygon points="388.6,350.4 382.85,367.8 394.35,367.8" fill="#0a0408"/>
<path d="M375,334.7 L343.2,334.7 L343.2,320" fill="none" stroke="#0a0408" stroke-width="3.8" stroke-linejoin="miter" />
<polygon points="343.2,305.3 337.45,322.5 348.95,322.5" fill="#0a0408"/>
</svg>
</body></html>
